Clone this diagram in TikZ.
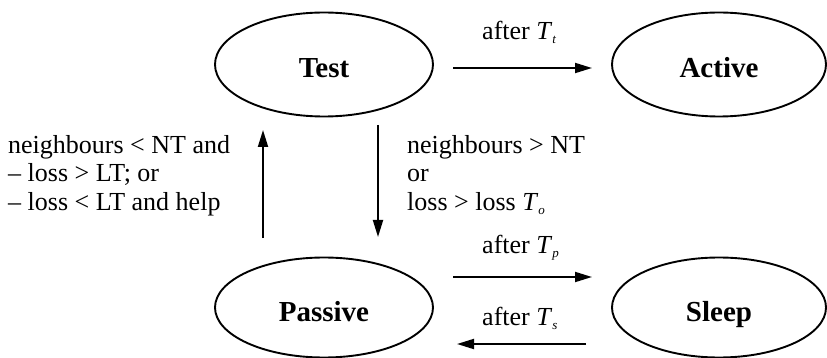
\documentclass[tikz,border=0pt]{standalone}
\usepackage{fontspec}
\setmainfont{Liberation Serif}
\usetikzlibrary{arrows.meta,calc,shapes.geometric}
\newcommand{\Tsb}[1]{\textit{T}{\fontsize{13}{13}\selectfont\raisebox{-4pt}{\textit{#1}}}}
\begin{document}
\begin{tikzpicture}[x=1pt,y=1pt,
  state/.style={draw,ellipse,line width=1.9pt,minimum width=218pt,minimum height=104pt,inner sep=0pt,
    font=\fontsize{29}{29}\selectfont\bfseries,text height=27pt,text depth=0pt},
  arr/.style={line width=1.9pt,-{Triangle[length=17pt,width=10pt]}},
  lbl/.style={font=\fontsize{26}{28.5}\selectfont,inner sep=0pt,align=left}]
\useasboundingbox (0,0) rectangle (827,-358);
\node[state] (test) at (324,-64.5) {Test};
\node[state,minimum width=214pt] (active) at (719,-64.5) {Active};
\node[state,minimum height=100pt] (passive) at (324,-307.5) {Passive};
\node[state,minimum height=100pt,minimum width=214pt] (sleep) at (719,-307.5) {Sleep};
% horizontal arrows
\draw[arr] ($(test.center)+(129,-3.5)$) -- ($(active.center)+(-127,-3.5)$);
\draw[arr] ($(passive.center)+(129,30.5)$) -- ($(sleep.center)+(-127,30.5)$);
\draw[arr] ($(sleep.center)+(-133,-36.5)$) -- ($(passive.center)+(133,-36.5)$);
% vertical arrows
\draw[arr] ($(test.center)+(54,-60.5)$) -- ($(passive.center)+(54,70.5)$);
\draw[arr] ($(passive.center)+(-61,69.5)$) -- ($(test.center)+(-61,-65.5)$);
% labels
\node[lbl,anchor=base west] (lt) at (482,-40) {after \Tsb{t}};
\node[lbl,anchor=base west] (lp) at (482,-253) {after \Tsb{p}};
\node[lbl,anchor=base west] (ls) at (482,-325) {after \Tsb{s}};
\node[lbl,anchor=north west] (left) at (8,-135) {neighbours < NT and\\– loss > LT; or\\– loss < LT and help};
\node[lbl,anchor=north west] (right) at (407,-135) {neighbours > NT\\or\\loss > loss \Tsb{o}};
\end{tikzpicture}
\end{document}
